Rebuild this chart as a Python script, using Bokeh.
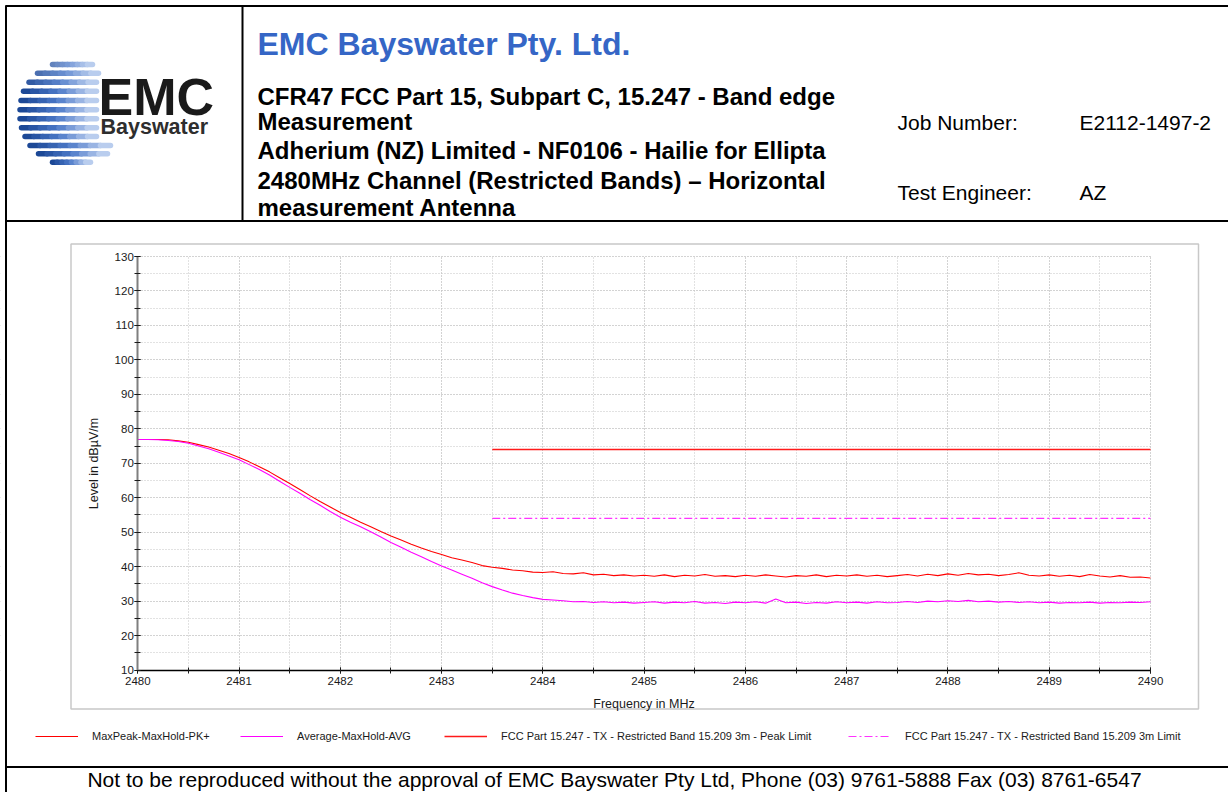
import numpy as np
from bokeh.plotting import figure
from bokeh.models import (Range1d, SingleIntervalTicker, Legend, LegendItem, ColumnDataSource)
from bokeh.core.properties import value
from bokeh.embed import file_html
from bokeh.resources import INLINE

# ---------------- data ----------------
freq_mhz = [2480.0, 2480.1, 2480.2, 2480.3, 2480.4, 2480.5, 2480.6, 2480.7, 2480.8, 2480.9,
            2481.0, 2481.1, 2481.2, 2481.3, 2481.4, 2481.5, 2481.6, 2481.7, 2481.8, 2481.9,
            2482.0, 2482.1, 2482.2, 2482.3, 2482.4, 2482.5, 2482.6, 2482.7, 2482.8, 2482.9,
            2483.0, 2483.1, 2483.2, 2483.3, 2483.4, 2483.5, 2483.6, 2483.7, 2483.8, 2483.9,
            2484.0, 2484.1, 2484.2, 2484.3, 2484.4, 2484.5, 2484.6, 2484.7, 2484.8, 2484.9,
            2485.0, 2485.1, 2485.2, 2485.3, 2485.4, 2485.5, 2485.6, 2485.7, 2485.8, 2485.9,
            2486.0, 2486.1, 2486.2, 2486.3, 2486.4, 2486.5, 2486.6, 2486.7, 2486.8, 2486.9,
            2487.0, 2487.1, 2487.2, 2487.3, 2487.4, 2487.5, 2487.6, 2487.7, 2487.8, 2487.9,
            2488.0, 2488.1, 2488.2, 2488.3, 2488.4, 2488.5, 2488.6, 2488.7, 2488.8, 2488.9,
            2489.0, 2489.1, 2489.2, 2489.3, 2489.4, 2489.5, 2489.6, 2489.7, 2489.8, 2489.9,
            2490.0]

maxpeak_pk = [76.9, 76.9, 76.9, 76.8, 76.5, 76.1, 75.4, 74.7, 73.8, 72.8,
              71.7, 70.4, 69.0, 67.5, 65.8, 64.1, 62.4, 60.6, 58.9, 57.3,
              55.7, 54.3, 52.9, 51.6, 50.2, 48.9, 47.7, 46.5, 45.4, 44.4,
              43.5, 42.6, 41.9, 41.2, 40.3, 39.8, 39.5, 39.0, 38.8, 38.4,
              38.3, 38.5, 38.0, 37.9, 38.2, 37.6, 37.8, 37.4, 37.6, 37.3,
              37.5, 37.2, 37.6, 37.1, 37.5, 37.3, 37.7, 37.2, 37.4, 37.1,
              37.5, 37.2, 37.6, 37.3, 37.0, 37.4, 37.2, 37.6, 37.1, 37.5,
              37.3, 37.6, 37.2, 37.5, 37.1, 37.4, 37.7, 37.3, 37.8, 37.4,
              37.9, 37.5, 38.0, 37.6, 37.8, 37.4, 37.7, 38.2, 37.5, 37.3,
              37.6, 37.2, 37.5, 37.1, 37.7, 37.3, 37.0, 37.4, 36.9, 37.0,
              36.7]

average_avg = [76.9, 76.9, 76.8, 76.6, 76.3, 75.8, 75.0, 74.2, 73.2, 72.1,
               71.0, 69.6, 68.2, 66.6, 64.8, 63.0, 61.3, 59.5, 57.8, 56.0,
               54.3, 52.9, 51.6, 50.1, 48.6, 47.0, 45.6, 44.2, 42.9, 41.5,
               40.2, 39.0, 37.8, 36.6, 35.3, 34.2, 33.2, 32.3, 31.6, 31.0,
               30.5, 30.3, 30.1, 29.8, 29.9, 29.6, 29.8, 29.5, 29.7, 29.4,
               29.6, 29.8, 29.4, 29.7, 29.5, 29.9, 29.4, 29.6, 29.3, 29.7,
               29.5, 29.8, 29.4, 30.6, 29.5, 29.7, 29.3, 29.6, 29.4, 29.8,
               29.5, 29.7, 29.4, 29.8, 29.5, 29.6, 29.9, 29.6, 30.0, 29.8,
               30.1, 29.9, 30.2, 29.8, 30.0, 29.7, 29.9, 29.6, 29.8, 29.5,
               29.7, 29.4, 29.6, 29.5, 29.7, 29.4, 29.6, 29.5, 29.7, 29.6,
               29.8]

limit_freq = [2483.5, 2490.0]
peak_limit = [74.0, 74.0]
avg_limit = [54.0, 54.0]

x_extent = (2480.0, 2490.0)
y_extent = (10.0, 130.0)

legend_labels = ["MaxPeak-MaxHold-PK+",
                 "Average-MaxHold-AVG",
                 "FCC Part 15.247 - TX - Restricted Band 15.209 3m - Peak Limit",
                 "FCC Part 15.247 - TX - Restricted Band 15.209 3m Limit"]

title_company = "EMC Bayswater Pty. Ltd."
title_lines = ["CFR47 FCC Part 15, Subpart C, 15.247 - Band edge",
               "Measurement",
               "Adherium (NZ) Limited - NF0106 - Hailie for Ellipta",
               "2480MHz Channel (Restricted Bands) \u2013 Horizontal",
               "measurement Antenna"]
info_labels = ["Job Number:", "Test Engineer:"]
info_values = ["E2112-1497-2", "AZ"]
footer_text = ("Not to be reproduced without the approval of EMC Bayswater Pty Ltd, "
               "Phone (03) 9761-5888 Fax (03) 8761-6547")

FONT = "Liberation Sans"

# ---------------- page geometry (pixels) ----------------
WP, HP = 1228, 792
PX_L, PX_R, PY_T, PY_B = 137.3, 1150.0, 256.0, 669.5   # data area on the page
kx = (PX_R - PX_L) / (x_extent[1] - x_extent[0])
ky = (PY_B - PY_T) / (y_extent[1] - y_extent[0])
x_range = Range1d(x_extent[0] - PX_L / kx, x_extent[1] + (WP - PX_R) / kx)
y_range = Range1d(y_extent[0] - (HP - PY_B) / ky, y_extent[1] + PY_T / ky)

p = figure(width=WP, height=HP, x_range=x_range, y_range=y_range, min_border=0,
           title=None, output_backend="svg", toolbar_location=None)
p.extra_x_ranges = {"px": Range1d(0, WP)}
p.extra_y_ranges = {"py": Range1d(HP, 0)}
p.outline_line_color = None
p.background_fill_color = "white"
p.border_fill_color = "white"

# ---------------- axes & grid ----------------
p.xaxis.fixed_location = y_extent[0]
p.yaxis.fixed_location = x_extent[0]
p.xaxis.bounds = x_extent
p.yaxis.bounds = y_extent
p.xaxis.ticker = SingleIntervalTicker(interval=1, num_minor_ticks=2)
p.yaxis.ticker = SingleIntervalTicker(interval=10, num_minor_ticks=2)
p.xgrid.bounds = x_extent
p.ygrid.bounds = y_extent
for g in (p.xgrid, p.ygrid):
    g.grid_line_color = "#c4c4c4"
    g.grid_line_dash = "1 2"
    g.minor_grid_line_color = "#c4c4c4"
    g.minor_grid_line_dash = "1 2"

p.xaxis.axis_label = "Frequency in MHz"
p.yaxis.axis_label = "Level in dB\u00b5V/m"
for ax in (p.xaxis[0], p.yaxis[0]):
    ax.major_label_text_font = FONT
    ax.major_label_text_font_size = "11.5px"
    ax.major_label_text_color = "#1a1a1a"
    ax.axis_label_text_font = FONT
    ax.axis_label_text_font_size = "12.5px"
    ax.axis_label_text_font_style = "normal"
    ax.axis_label_text_color = "#1a1a1a"
    ax.major_tick_in = 3
    ax.major_tick_out = 3
    ax.minor_tick_in = 3
    ax.minor_tick_out = 3
    ax.major_tick_line_color = "#1a1a1a"
    ax.minor_tick_line_color = "#1a1a1a"
p.xaxis.axis_line_color = "black"
p.xaxis.axis_line_width = 1.5
p.yaxis.axis_line_color = "#7f7f7f"
p.yaxis.axis_line_width = 2
p.xaxis.major_label_standoff = 4
p.yaxis.major_label_standoff = 1
p.xaxis.axis_label_standoff = 8
p.yaxis.axis_label_standoff = 10

# white masks so the grid only shows inside the data area
p.quad(left=[0, 0, 0, PX_R + 0.6], right=[PX_L - 0.6, WP, WP, WP],
       top=[0, 0, PY_B + 0.6, 0], bottom=[HP, PY_T - 0.6, HP, HP],
       x_range_name="px", y_range_name="py", fill_color="white", line_color=None)

# light grey frame round the chart
p.quad(left=[70.5], right=[1198], top=[243.5], bottom=[708.5], x_range_name="px",
       y_range_name="py", fill_color=None, line_color="#c8c8c8", line_width=1.5)

# ---------------- traces ----------------
src = ColumnDataSource(dict(f=freq_mhz, pk=maxpeak_pk, avg=average_avg))
lim = ColumnDataSource(dict(f=limit_freq, pk=peak_limit, avg=avg_limit))
r_pk = p.line("f", "pk", source=src, line_color="#ff0000", line_width=1.1)
r_avg = p.line("f", "avg", source=src, line_color="#ff00ff", line_width=1.1)
r_pkl = p.line("f", "pk", source=lim, line_color="#ff1a1a", line_width=1.6)
r_avl = p.line("f", "avg", source=lim, line_color="#ff33ff", line_width=1.1, line_dash="8 3 2 3")

# ---------------- legend (one entry each, placed like the reference) ----------------
leg_x = [35, 240, 444, 848]
for lx, lab, rr in zip(leg_x, legend_labels, [r_pk, r_avg, r_pkl, r_avl]):
    p.add_layout(Legend(items=[LegendItem(label=lab, renderers=[rr])],
                        location=(lx, HP - 746), orientation="horizontal",
                        glyph_width=43, glyph_height=20, label_standoff=14,
                        padding=0, margin=0, border_line_color=None,
                        background_fill_alpha=0, label_text_font=FONT,
                        label_text_font_size="11px", label_text_color="#1a1a1a"))

# ---------------- report header / footer frame ----------------
p.segment(x0=[5, 5.5, 242, 5, 5], y0=[5.5, 5, 5, 220.5, 766.5],
          x1=[WP, 5.5, 242, WP, WP], y1=[5.5, HP, 221, 220.5, 766.5],
          x_range_name="px", y_range_name="py", line_color="black", line_width=2)

# logo: striped globe
stripe_y = [64, 72.7, 81.7, 90.7, 100, 109.3, 118.3, 127.3, 136, 145, 153.3, 161.7]
stripe_l = [52, 37, 28.5, 23, 20.5, 19.5, 19.5, 21, 24.5, 29.5, 38, 52]
stripe_r = [92, 98, 96, 96, 96, 96, 96, 96, 96, 110, 107, 90]
sx0, sy0, sx1, sy1, scol = [], [], [], [], []
dark = np.array([28, 72, 150])
mid = np.array([75, 120, 200])
light = np.array([185, 205, 238])
nseg = 8
for i, (yy, xl, xr) in enumerate(zip(stripe_y, stripe_l, stripe_r)):
    edges = np.linspace(xl, xr, nseg + 1)
    top_fade = max(0.0, (3 - i) / 3.0) * 0.45
    for k in range(nseg):
        t = k / (nseg - 1)
        if t < 0.5:
            c = dark + (mid - dark) * (t / 0.5)
        else:
            c = mid + (light - mid) * ((t - 0.5) / 0.5)
        c = c + (light - c) * top_fade
        sx0.append(edges[k]); sx1.append(edges[k + 1])
        sy0.append(yy); sy1.append(yy)
        scol.append("#%02x%02x%02x" % tuple(int(v) for v in c))
p.segment(x0=sx0, y0=sy0, x1=sx1, y1=sy1, x_range_name="px", y_range_name="py",
          line_color=scol, line_width=5.5, line_cap="round")

TXT = dict(x_range_name="px", y_range_name="py", text_font=value(FONT), text_baseline="middle")
p.text(x=[98], y=[96], text=["EMC"], text_font_style="bold", text_font_size="52px",
       text_color="#1a1a1a", **TXT)
p.text(x=[100], y=[126], text=["Bayswater"], text_font_style="bold", text_font_size="21.5px",
       text_color="#2e2e2e", **TXT)

p.text(x=[257], y=[43], text=[title_company], text_font_style="bold", text_font_size="32px",
       text_color="#3566c6", **TXT)
p.text(x=[257] * 5, y=[96, 121, 150, 179.5, 206.5], text=title_lines,
       text_font_style="bold", text_font_size="24px", text_color="black", **TXT)
p.text(x=[897, 897], y=[121.5, 192], text=info_labels, text_font_size="21px",
       text_color="black", **TXT)
p.text(x=[1079, 1079], y=[121.5, 192], text=info_values, text_font_size="21px",
       text_color="black", **TXT)

p.text(x=[614], y=[779], text=[footer_text], text_font_size="21px", text_color="black",
       text_align="center", x_range_name="px", y_range_name="py",
       text_font=value(FONT), text_baseline="middle")

open("out.html", "w").write(file_html(p, INLINE))
